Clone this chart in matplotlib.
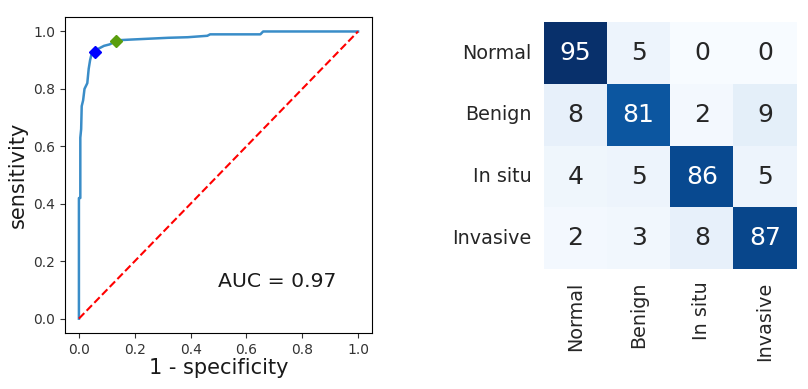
import numpy as np
import matplotlib
matplotlib.use("Agg")
import matplotlib.pyplot as plt
import seaborn as sns

# ROC curve
fpr = [0.0, 0.0, 0.005, 0.005, 0.008, 0.01, 0.015, 0.02, 0.025, 0.03, 0.035, 0.04,
       0.045, 0.055, 0.07, 0.09, 0.11, 0.13, 0.15, 0.19, 0.32, 0.39, 0.46, 0.47,
       0.65, 0.66, 1.0]
tpr = [0.0, 0.42, 0.42, 0.63, 0.66, 0.74, 0.76, 0.80, 0.81, 0.82, 0.87, 0.90,
       0.92, 0.93, 0.94, 0.95, 0.955, 0.965, 0.97, 0.972, 0.978, 0.98, 0.985, 0.99,
       0.99, 1.0, 1.0]
point_blue = (0.058, 0.928)
point_green = (0.132, 0.967)
auc = 0.97

# confusion matrix
classes = ["Normal", "Benign", "In situ", "Invasive"]
cm = np.array([
    [95, 5, 0, 0],
    [8, 81, 2, 9],
    [4, 5, 86, 5],
    [2, 3, 8, 87],
])

fig = plt.figure(figsize=(8.08, 3.89), dpi=100)

ax = fig.add_axes([0.0804, 0.144, 0.380, 0.812])
ax.plot(fpr, tpr, color="#3a8dc8", lw=1.8)
ax.plot([0, 1], [0, 1], "r--", lw=1.5)
ax.plot(*point_blue, "D", color="blue", ms=6)
ax.plot(*point_green, "D", color="#5a9e0e", ms=6)
ax.text(0.71, 0.13, f"AUC = {auc:.2f}", fontsize=14.7, ha="center", va="center",
        color="#1a1a1a")
ax.set_xlabel("1 - specificity", fontsize=15, labelpad=1, color="#1a1a1a")
ax.set_ylabel("sensitivity", fontsize=15, labelpad=4, color="#1a1a1a")
ax.tick_params(labelsize=10, colors="#333333", labelcolor="#333333")

ax2 = fig.add_axes([0.673, 0.308, 0.313, 0.635])
sns.heatmap(cm, ax=ax2, cmap="Blues", annot=True, fmt="d", cbar=False,
            annot_kws={"fontsize": 18}, xticklabels=classes, yticklabels=classes)
ax2.tick_params(length=0, pad=9, labelsize=13.8, labelcolor="#262626")
plt.setp(ax2.get_xticklabels(), rotation=90)
plt.setp(ax2.get_yticklabels(), rotation=0)

fig.savefig("out.png", dpi=100)
